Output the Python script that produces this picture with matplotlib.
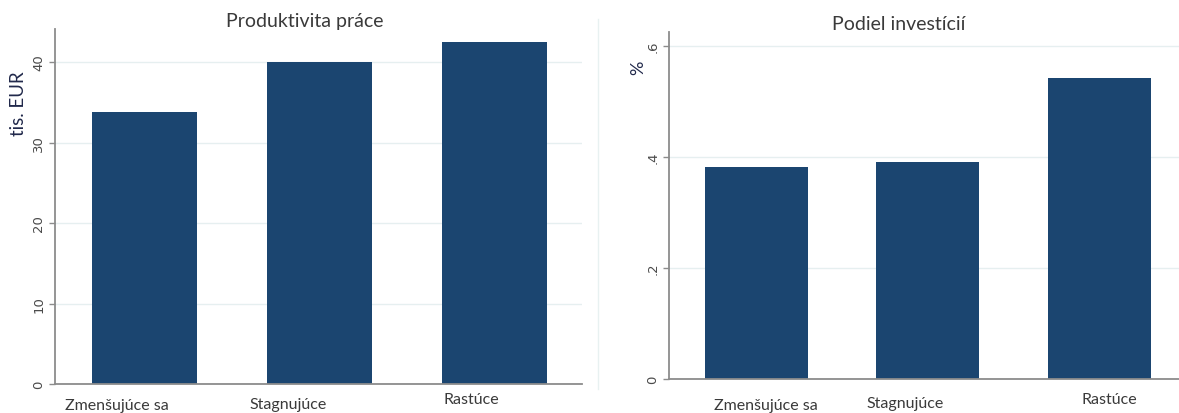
import matplotlib
matplotlib.use("Agg")
import matplotlib.pyplot as plt
from matplotlib.transforms import blended_transform_factory, offset_copy

categories = ["Zmenšujúce sa", "Stagnujúce", "Rastúce"]
productivity = [33.8, 40.0, 42.5]        # tis. EUR
investment = [0.382, 0.391, 0.542]       # share
prod_ticks = [0, 10, 20, 30, 40]
prod_ticklabels = ["0", "10", "20", "30", "40"]
inv_ticks = [0, 0.2, 0.4, 0.6]
inv_ticklabels = ["0", ".2", ".4", ".6"]

W, H = 1179, 414
fig = plt.figure(figsize=(W / 100, H / 100), dpi=100)

BAR = "#1b4570"
SPINE = "#8c8c8c"
GRID = "#e6eff0"
TITLE = "#3a3a3a"
TICK = "#4a4a4a"
FONT = "Lato"


def px_axes(l, r, t, b):
    return fig.add_axes([l / W, (H - b) / H, (r - l) / W, (b - t) / H])


def style(ax, ticks, ticklabels, ylim):
    ax.set_xlim(-0.51, 2.5)
    ax.set_ylim(*ylim)
    for s in ("top", "right"):
        ax.spines[s].set_visible(False)
    for s in ("left", "bottom"):
        ax.spines[s].set_color(SPINE)
        ax.spines[s].set_linewidth(1.3)
    ax.set_yticks(ticks)
    ax.set_yticklabels(ticklabels, rotation=90, va="center", fontsize=9.5,
                       color=TICK, family="DejaVu Sans")
    ax.tick_params(axis="y", length=4, width=1, color=SPINE, pad=3)
    ax.set_xticks([])
    ax.yaxis.grid(True, color=GRID, linewidth=1)
    ax.set_axisbelow(True)


def xlabels(ax, dx, dy):
    tr = blended_transform_factory(ax.transData, ax.transAxes)
    for i, lab in enumerate(categories):
        t = offset_copy(tr, fig=fig, x=dx[i], y=dy[i], units="dots")
        ax.text(i, 0, lab, transform=t, ha="center", va="center",
                fontsize=11.5, color=TITLE, family=FONT)


# left panel
ax1 = px_axes(55, 582, 30, 385)
ax1.bar(range(len(categories)), productivity, width=0.6, color=BAR)
style(ax1, prod_ticks, prod_ticklabels, (0, 44.1))
xlabels(ax1, [-27, -31, -23], [-21, -20, -15])
fig.text(305 / W, 1 - 22 / H, "Produktivita práce", ha="center", va="center",
         fontsize=14, color=TITLE, family=FONT)
fig.text(18 / W, 1 - 104 / H, "tis. EUR", rotation=90, ha="center", va="center",
         fontsize=13.5, color="#20284a", family=FONT)

# right panel
ax2 = px_axes(669, 1185, 33, 380)
ax2.bar(range(len(categories)), investment, width=0.6, color=BAR)
style(ax2, inv_ticks, inv_ticklabels, (0, 0.625))
xlabels(ax2, [9, -23, 10], [-26, -24, -20])
fig.text(899 / W, 1 - 25 / H, "Podiel investícií", ha="center", va="center",
         fontsize=14, color=TITLE, family=FONT)
fig.text(638 / W, 1 - 68 / H, "%", rotation=90, ha="center", va="center",
         fontsize=13, color="#20284a", family=FONT)

# faint panel separator
fig.add_artist(plt.Line2D([598 / W, 598 / W], [1 - 20 / H, 1 - 390 / H],
                          color="#e8f1f1", linewidth=1))

fig.savefig("out.png", dpi=100)
